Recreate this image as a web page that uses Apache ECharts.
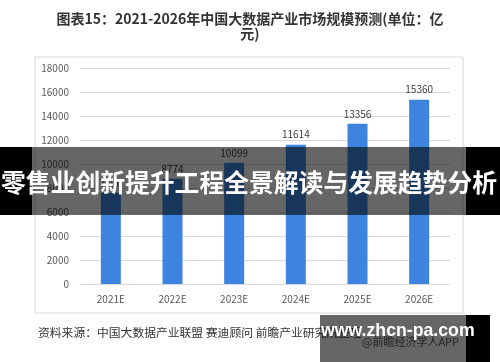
<!DOCTYPE html>
<html><head><meta charset="utf-8">
<script src="https://cdn.jsdelivr.net/npm/echarts@6/dist/echarts.min.js"></script>
<style>html,body{margin:0;padding:0;background:#fff}#c{width:500px;height:362px}</style>
</head><body><div id="c"></div>
<script>
const categories = ['2021E','2022E','2023E','2024E','2025E','2026E'];
const marketSize = [7600, 8774, 10099, 11614, 13356, 15360];
const yTicks = {min: 0, max: 18000, interval: 2000};
const titleLine1 = '图表15：2021-2026年中国大数据产业市场规模预测(单位：亿';
const titleLine2 = '元)';
const sourceText = '资料来源：中国大数据产业联盟 赛迪顾问 前瞻产业研究院整理';
const bannerText = '零售业创新提升工程全景解读与发展趋势分析';
const siteText = 'www.zhcn-pa.com';
const appText = '@前瞻经济学人APP';

const font = '"Noto Sans CJK SC","Noto Sans",sans-serif';
const chart = echarts.init(document.getElementById('c'), null, {renderer:'canvas'});
chart.setOption({
  animation: false,
  backgroundColor: '#fff',
  grid: {left: 80, right: 50, top: 68, bottom: 78},
  xAxis: {
    type: 'category', data: categories,
    axisLine: {lineStyle: {color: '#d9d9d9'}},
    axisTick: {show: false},
    axisLabel: {color: '#595959', fontSize: 10, fontFamily: font, margin: 10}
  },
  yAxis: {
    type: 'value', min: yTicks.min, max: yTicks.max, interval: yTicks.interval,
    axisLine: {show: false}, axisTick: {show: false},
    splitLine: {lineStyle: {color: '#d9d9d9'}},
    axisLabel: {color: '#595959', fontSize: 10, fontFamily: font, margin: 11, formatter: v => String(v)}
  },
  series: [{
    type: 'bar', data: marketSize, barWidth: 20,
    itemStyle: {color: '#3d84e0'},
    label: {show: true, position: 'top', distance: 5, color: '#404040', fontSize: 10, fontFamily: font}
  }],
  graphic: [
    {type: 'text', z: 10, style: {x: 250, y: 19, text: titleLine1, textAlign: 'center', textVerticalAlign: 'middle', fill: '#333', font: 'bold 14px ' + font}},
    {type: 'text', z: 10, style: {x: 250, y: 34, text: titleLine2, textAlign: 'center', textVerticalAlign: 'middle', fill: '#333', font: 'bold 14px ' + font}},
    {type: 'rect', z: 0, shape: {x: 35, y: 57, width: 428, height: 256}, style: {fill: 'none', stroke: '#d9d9d9', lineWidth: 1}},
    {type: 'text', z: 10, style: {x: 38, y: 333, text: sourceText, textVerticalAlign: 'middle', fill: '#333', font: '11.8px ' + font}},
    {type: 'text', z: 10, style: {x: 362, y: 342, text: appText, textVerticalAlign: 'middle', fill: '#555', font: '11px ' + font}},
    {type: 'rect', z: 100, shape: {x: 0, y: 147, width: 32, height: 68}, style: {fill: '#000'}},
    {type: 'rect', z: 100, shape: {x: 466, y: 147, width: 34, height: 68}, style: {fill: '#000'}},
    {type: 'rect', z: 100, shape: {x: 32, y: 147, width: 434, height: 68}, style: {fill: 'rgba(0,0,0,0.6)'}},
    {type: 'text', z: 101, style: {x: 249, y: 183, text: bannerText, textAlign: 'center', textVerticalAlign: 'middle', fill: '#fff', font: 'bold 24.8px ' + font}},
    {type: 'rect', z: 100, shape: {x: 320, y: 315, width: 146, height: 47}, style: {fill: 'rgba(0,0,0,0.6)'}},
    {type: 'rect', z: 100, shape: {x: 466, y: 315, width: 24, height: 47}, style: {fill: '#000'}},
    {type: 'text', z: 101, style: {x: 321, y: 331, text: siteText, textVerticalAlign: 'middle', fill: '#fff', font: 'bold 17.7px "Liberation Sans",sans-serif'}}
  ]
});
</script></body></html>
